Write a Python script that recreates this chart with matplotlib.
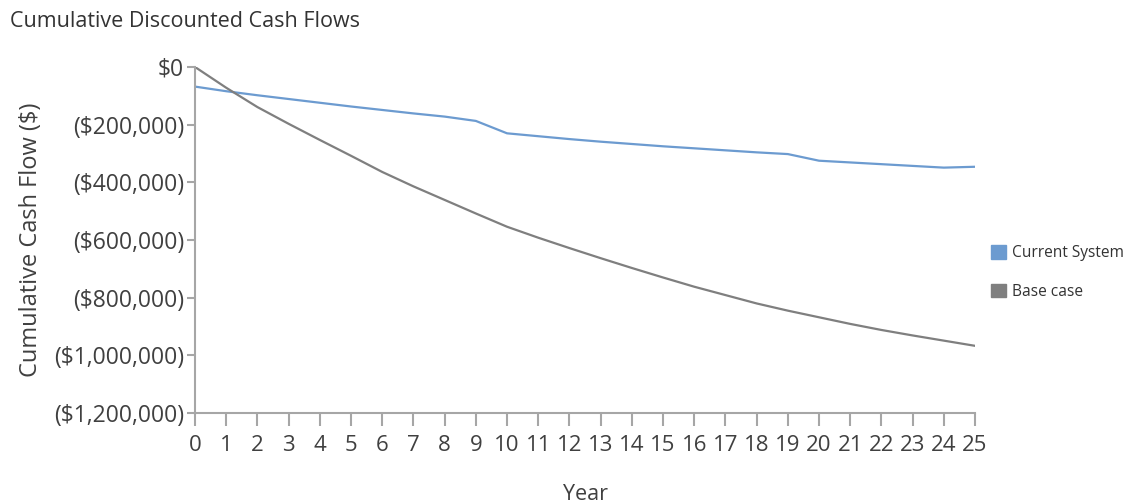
import matplotlib
matplotlib.use("Agg")
import matplotlib.pyplot as plt
from matplotlib.patches import Patch
from matplotlib.ticker import FuncFormatter, MultipleLocator

plt.rcParams['font.family'] = ['Open Sans', 'DejaVu Sans']

years = list(range(0, 26))
current_system = [-68000, -84000, -98000, -111000, -124000, -137000, -149000,
                  -161000, -172000, -187000, -230000, -240000, -250000, -259000,
                  -267000, -275000, -282000, -289000, -296000, -302000, -325000,
                  -331000, -337000, -343000, -349000, -346000]
base_case = [0, -72000, -139000, -197000, -253000, -308000, -364000, -414000,
             -461000, -508000, -554000, -592000, -628000, -663000, -697000,
             -730000, -762000, -791000, -820000, -845000, -868000, -891000,
             -912000, -931000, -949000, -967000]
series_names = ["Current System", "Base case"]
series_colors = ["#6C9BD0", "#7F7F7F"]

fig = plt.figure(figsize=(11.28, 5.03), dpi=100)
ax = fig.add_axes([0.1729, 0.1789, 0.6915, 0.6879])

ax.plot(years, current_system, color=series_colors[0], lw=1.6)
ax.plot(years, base_case, color=series_colors[1], lw=1.6)

ax.set_xlim(0, 25)
ax.set_ylim(-1200000, 0)
ax.xaxis.set_major_locator(MultipleLocator(1))
ax.yaxis.set_major_locator(MultipleLocator(200000))


def money(v, _pos):
    v = int(round(v))
    if v == 0:
        return "$0"
    if v < 0:
        return "(${:,})".format(-v)
    return "${:,}".format(v)


ax.yaxis.set_major_formatter(FuncFormatter(money))

axis_grey = "#A6A6A6"
for side in ("top", "right"):
    ax.spines[side].set_visible(False)
for side in ("left", "bottom"):
    ax.spines[side].set_color(axis_grey)
    ax.spines[side].set_linewidth(1.5)

ax.tick_params(axis="y", length=6, width=1.5, color=axis_grey,
               labelsize=16.5, labelcolor="#404040", pad=2)
ax.tick_params(axis="x", length=9, width=1.5, color=axis_grey,
               labelsize=16, labelcolor="#404040", pad=7)
for lab in ax.get_xticklabels():
    lab.set_fontstretch("semi-condensed")

ax.set_ylabel("Cumulative Cash Flow ($)", fontsize=17, color="#404040",
              labelpad=8)
ax.set_xlabel("Year", fontsize=15.5, color="#404040", labelpad=20)

fig.text(0.009, 0.958, "Cumulative Discounted Cash Flows", fontsize=15.5,
         color="#333333", ha="left", va="center")

handles = [Patch(facecolor=c, edgecolor=c) for c in series_colors]
fig.legend(handles, series_names, loc="center left",
           bbox_to_anchor=(0.866, 0.458), frameon=False, fontsize=11.2,
           handlelength=0.95, handleheight=0.95, handletextpad=0.4,
           labelspacing=1.45, labelcolor="#333333")

fig.savefig("out.png", dpi=100)
